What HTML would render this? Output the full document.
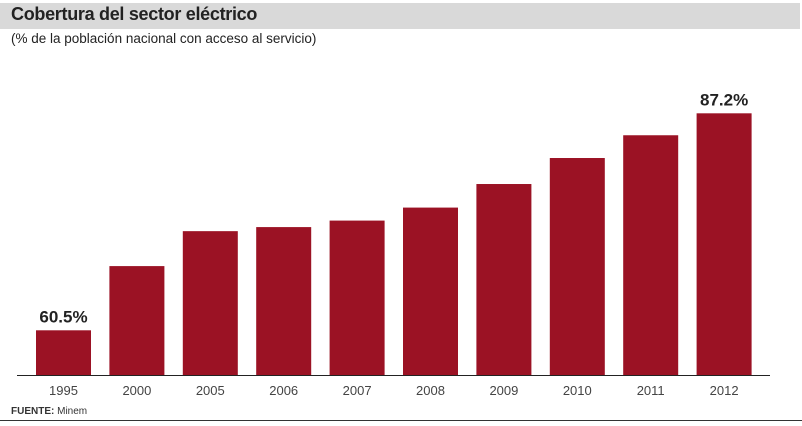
<!DOCTYPE html>
<html><head><meta charset="utf-8"><style>
body{margin:0;width:802px;height:426px;background:#fff;position:relative;overflow:hidden;font-family:"Liberation Sans",sans-serif;}
#hdr{position:absolute;left:0;top:3px;width:800px;height:26px;background:#d9d9d9;}
#title{position:absolute;left:11px;top:4px;font-size:18px;font-weight:bold;color:#222;letter-spacing:-0.3px}
#sub{position:absolute;left:11px;top:31px;font-size:13.5px;color:#222}
#src{position:absolute;left:11px;top:406px;font-size:10px;color:#333}
#bot{position:absolute;left:0;top:420px;width:802px;height:1px;background:#333}
svg{position:absolute;left:0;top:0}
</style></head><body>
<div id="hdr"></div>
<div id="title">Cobertura del sector eléctrico</div>
<div id="sub">(% de la población nacional con acceso al servicio)</div>
<svg id="chart" width="802" height="426"></svg>
<div id="src"><b>FUENTE:</b> Minem</div>
<div id="bot"></div>
<script>
const categories=["1995","2000","2005","2006","2007","2008","2009","2010","2011","2012"];
const values=[60.5,68.4,72.7,73.2,74.0,75.6,78.5,81.7,84.5,87.2];
const labels=["60.5%","","","","","","","","","87.2%"];
const svg=document.getElementById('chart');
const NS='http://www.w3.org/2000/svg';
const yMin=55,base=375,pxPer=8.127;
function y(v){return base-(v-yMin)*pxPer;}
function x(i){return 36+i*73.4;}
const bw=55;
categories.forEach((c,i)=>{
 const r=document.createElementNS(NS,'rect');
 r.setAttribute('x',x(i));r.setAttribute('y',y(values[i]));
 r.setAttribute('width',bw);r.setAttribute('height',base-y(values[i]));
 r.setAttribute('fill','#9b1224');
 
 
 svg.appendChild(r);
 const t=document.createElementNS(NS,'text');
 t.setAttribute('x',x(i)+bw/2);t.setAttribute('y',395);
 t.setAttribute('text-anchor','middle');t.setAttribute('font-size','13');t.setAttribute('fill','#444');
 t.textContent=c;
 
 
 svg.appendChild(t);
 if(labels[i]){
  const l=document.createElementNS(NS,'text');
  l.setAttribute('x',x(i)+bw/2);l.setAttribute('y',y(values[i])-8);
  l.setAttribute('text-anchor','middle');l.setAttribute('font-size','17');l.setAttribute('font-weight','bold');l.setAttribute('fill','#222');
  l.textContent=labels[i];
  
  
  svg.appendChild(l);
 }
});
const ax=document.createElementNS(NS,'line');
ax.setAttribute('x1',17);ax.setAttribute('x2',770);ax.setAttribute('y1',base+0.5);ax.setAttribute('y2',base+0.5);
ax.setAttribute('stroke','#222');ax.setAttribute('stroke-width','1');


svg.appendChild(ax);
</script>
</body></html>
